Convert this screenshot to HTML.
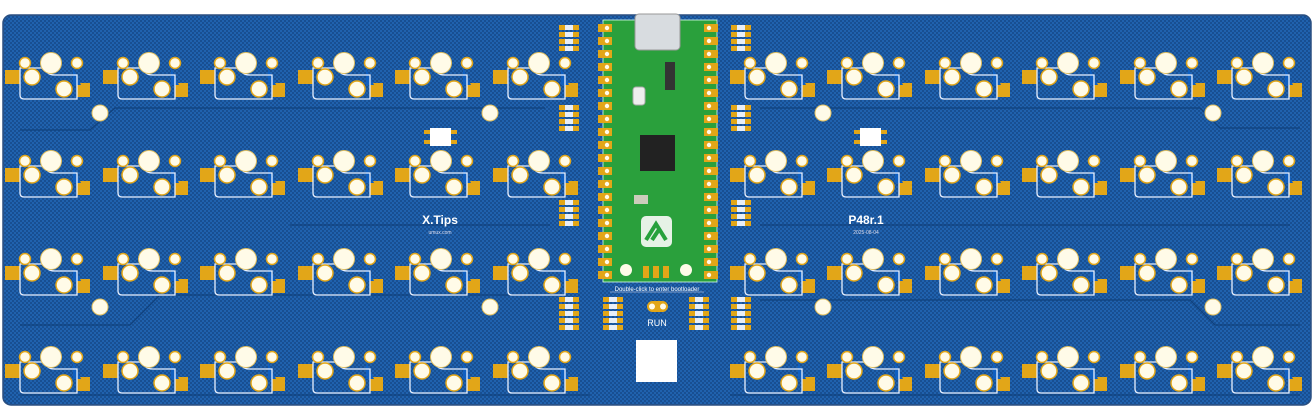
<!DOCTYPE html>
<html><head><meta charset="utf-8"><style>
html,body{margin:0;padding:0;background:#fff;}
svg{display:block}
text{font-family:"Liberation Sans",sans-serif;}
</style></head><body>
<svg width="1314" height="407" viewBox="0 0 1314 407" xmlns="http://www.w3.org/2000/svg">
<defs>
<pattern id="hatch" width="4" height="4" patternUnits="userSpaceOnUse">
<rect width="4" height="4" fill="#2062ae"/><rect width="2" height="2" fill="#184f92"/><rect x="2" y="2" width="2" height="2" fill="#184f92"/>
</pattern>
<g id="sw">
<rect x="-46" y="7" width="15" height="14" fill="#e2a618"/>
<rect x="26" y="20" width="13" height="14" fill="#e2a618"/>
<path d="M22,5 L30,22 L22,22 Z" fill="#0f5fc0"/>
<path d="M-31,5 H-10 Q-6,5 -4,9 Q-2,12 4,12 H26 V36 H-27 Q-31,36 -31,32 Z" fill="none" stroke="#e8f0ff" stroke-width="1.3"/>
<circle cx="0" cy="0" r="10.5" fill="#fffbe8" stroke="#e2c060" stroke-width="1"/>
<circle cx="-26" cy="0" r="5.5" fill="#fffbe8" stroke="#e2a618" stroke-width="1.5"/>
<circle cx="26" cy="0" r="5.5" fill="#fffbe8" stroke="#e2a618" stroke-width="1.5"/>
<circle cx="-19" cy="14" r="8" fill="#fffbe8" stroke="#e2a618" stroke-width="1.5"/>
<circle cx="13" cy="26" r="8" fill="#fffbe8" stroke="#e2a618" stroke-width="1.5"/>
</g>
<g id="res">
<rect x="0" y="0" width="6" height="5" fill="#e2a618"/><rect x="14" y="0" width="6" height="5" fill="#e2a618"/><rect x="6" y="0" width="8" height="5" fill="#e8eef8"/>
</g>
<g id="resblk">
<use href="#res" y="0"/><use href="#res" y="7"/><use href="#res" y="14"/><use href="#res" y="21"/>
</g>
<g id="pp"><rect x="0" y="0" width="14" height="8" fill="#e2a618"/><circle cx="9" cy="4" r="2.2" fill="#fffbe8"/></g>
<g id="ppr"><rect x="0" y="0" width="14" height="8" fill="#e2a618"/><circle cx="5" cy="4" r="2.2" fill="#fffbe8"/></g>
</defs>
<rect x="3" y="15" width="1308" height="390" rx="8" fill="url(#hatch)" stroke="#2a4f80" stroke-width="1.5"/>
<g stroke="#103f7a" stroke-width="1.2" fill="none" opacity="0.9">
<path d="M20,325 H130 L160,295 H540"/><path d="M20,130 H90 L115,108 H545"/>
<path d="M760,108 H1200 L1220,128 H1300"/><path d="M760,300 H1190 L1215,325 H1300"/>
<path d="M290,225 H550"/><path d="M760,225 H1290"/>
<path d="M20,395 H590"/><path d="M730,395 H1300"/>
</g>
<g>
<use href="#sw" x="51" y="63"/><use href="#sw" x="149" y="63"/><use href="#sw" x="246" y="63"/><use href="#sw" x="344" y="63"/><use href="#sw" x="441" y="63"/><use href="#sw" x="539" y="63"/>
<use href="#sw" x="51" y="161"/><use href="#sw" x="149" y="161"/><use href="#sw" x="246" y="161"/><use href="#sw" x="344" y="161"/><use href="#sw" x="441" y="161"/><use href="#sw" x="539" y="161"/>
<use href="#sw" x="51" y="259"/><use href="#sw" x="149" y="259"/><use href="#sw" x="246" y="259"/><use href="#sw" x="344" y="259"/><use href="#sw" x="441" y="259"/><use href="#sw" x="539" y="259"/>
<use href="#sw" x="51" y="357"/><use href="#sw" x="149" y="357"/><use href="#sw" x="246" y="357"/><use href="#sw" x="344" y="357"/><use href="#sw" x="441" y="357"/><use href="#sw" x="539" y="357"/>
<use href="#sw" x="776" y="63"/><use href="#sw" x="873" y="63"/><use href="#sw" x="971" y="63"/><use href="#sw" x="1068" y="63"/><use href="#sw" x="1166" y="63"/><use href="#sw" x="1263" y="63"/>
<use href="#sw" x="776" y="161"/><use href="#sw" x="873" y="161"/><use href="#sw" x="971" y="161"/><use href="#sw" x="1068" y="161"/><use href="#sw" x="1166" y="161"/><use href="#sw" x="1263" y="161"/>
<use href="#sw" x="776" y="259"/><use href="#sw" x="873" y="259"/><use href="#sw" x="971" y="259"/><use href="#sw" x="1068" y="259"/><use href="#sw" x="1166" y="259"/><use href="#sw" x="1263" y="259"/>
<use href="#sw" x="776" y="357"/><use href="#sw" x="873" y="357"/><use href="#sw" x="971" y="357"/><use href="#sw" x="1068" y="357"/><use href="#sw" x="1166" y="357"/><use href="#sw" x="1263" y="357"/>
</g>
<g fill="#fffbe8" stroke="#e2c060" stroke-width="1">
<circle cx="100" cy="113" r="8"/><circle cx="490" cy="113" r="8"/><circle cx="100" cy="307" r="8"/><circle cx="490" cy="307" r="8"/>
<circle cx="823" cy="113" r="8"/><circle cx="1213" cy="113" r="8"/><circle cx="823" cy="307" r="8"/><circle cx="1213" cy="307" r="8"/>
</g>
<g>
<rect x="424" y="130" width="6" height="4" fill="#e2a618"/><rect x="424" y="140" width="6" height="4" fill="#e2a618"/><rect x="451" y="130" width="6" height="4" fill="#e2a618"/><rect x="451" y="140" width="6" height="4" fill="#e2a618"/><rect x="430" y="128" width="21" height="18" fill="#fff"/>
<rect x="854" y="130" width="6" height="4" fill="#e2a618"/><rect x="854" y="140" width="6" height="4" fill="#e2a618"/><rect x="881" y="130" width="6" height="4" fill="#e2a618"/><rect x="881" y="140" width="6" height="4" fill="#e2a618"/><rect x="860" y="128" width="21" height="18" fill="#fff"/>
</g>
<text x="440" y="224" fill="#fff" font-size="12" font-weight="bold" text-anchor="middle">X.Tips</text>
<text x="440" y="234" fill="#dde" font-size="5" text-anchor="middle">umux.com</text>
<text x="866" y="224" fill="#fff" font-size="12" font-weight="bold" text-anchor="middle">P48r.1</text>
<text x="866" y="234" fill="#dde" font-size="5" text-anchor="middle">2025-08-04</text>
<use href="#resblk" x="559" y="25"/><use href="#resblk" x="559" y="105"/><use href="#resblk" x="559" y="200"/><use href="#resblk" x="559" y="297"/>
<use href="#resblk" x="731" y="25"/><use href="#resblk" x="731" y="105"/><use href="#resblk" x="731" y="200"/><use href="#resblk" x="731" y="297"/>
<use href="#resblk" x="603" y="297"/><use href="#resblk" x="689" y="297"/>
<use href="#res" x="559" y="325"/><use href="#res" x="731" y="325"/><use href="#res" x="603" y="325"/><use href="#res" x="689" y="325"/>
<rect x="603" y="20" width="114" height="262" fill="#2aa03c" stroke="#dfe" stroke-width="0.8"/>
<g>
<use href="#pp" x="598" y="24"/><use href="#pp" x="598" y="37"/><use href="#pp" x="598" y="50"/><use href="#pp" x="598" y="63"/><use href="#pp" x="598" y="76"/><use href="#pp" x="598" y="89"/><use href="#pp" x="598" y="102"/><use href="#pp" x="598" y="115"/><use href="#pp" x="598" y="128"/><use href="#pp" x="598" y="141"/><use href="#pp" x="598" y="154"/><use href="#pp" x="598" y="167"/><use href="#pp" x="598" y="180"/><use href="#pp" x="598" y="193"/><use href="#pp" x="598" y="206"/><use href="#pp" x="598" y="219"/><use href="#pp" x="598" y="232"/><use href="#pp" x="598" y="245"/><use href="#pp" x="598" y="258"/><use href="#pp" x="598" y="271"/>
<use href="#ppr" x="704" y="24"/><use href="#ppr" x="704" y="37"/><use href="#ppr" x="704" y="50"/><use href="#ppr" x="704" y="63"/><use href="#ppr" x="704" y="76"/><use href="#ppr" x="704" y="89"/><use href="#ppr" x="704" y="102"/><use href="#ppr" x="704" y="115"/><use href="#ppr" x="704" y="128"/><use href="#ppr" x="704" y="141"/><use href="#ppr" x="704" y="154"/><use href="#ppr" x="704" y="167"/><use href="#ppr" x="704" y="180"/><use href="#ppr" x="704" y="193"/><use href="#ppr" x="704" y="206"/><use href="#ppr" x="704" y="219"/><use href="#ppr" x="704" y="232"/><use href="#ppr" x="704" y="245"/><use href="#ppr" x="704" y="258"/><use href="#ppr" x="704" y="271"/>
</g>
<rect x="635" y="14" width="45" height="36" rx="4" fill="#d8dce0" stroke="#999"/>
<rect x="633" y="87" width="12" height="18" rx="3" fill="#eee" stroke="#aaa"/>
<rect x="665" y="62" width="10" height="28" fill="#333"/>
<rect x="640" y="135" width="35" height="36" fill="#222"/>
<rect x="634" y="195" width="14" height="9" fill="#ccb"/>
<rect x="641" y="216" width="31" height="31" rx="5" fill="#e6f2e6"/>
<path d="M646,240 L656,224 L666,240 M652,240 L660,228" stroke="#27a13c" stroke-width="4" fill="none"/>
<circle cx="626" cy="270" r="6" fill="#fffbe8"/><circle cx="686" cy="270" r="6" fill="#fffbe8"/>
<rect x="643" y="266" width="6" height="12" fill="#e2a618"/><rect x="653" y="266" width="6" height="12" fill="#e2a618"/><rect x="663" y="266" width="6" height="12" fill="#e2a618"/>
<text x="657" y="291" fill="#fff" font-size="6" text-anchor="middle">Double-click to enter bootloader</text>
<line x1="610" y1="292" x2="704" y2="292" stroke="#dde" stroke-width="0.6"/>
<rect x="647" y="301" width="21" height="11" rx="5.5" fill="#e2a618"/>
<circle cx="652" cy="306.5" r="3" fill="#fffbe8"/><circle cx="663" cy="306.5" r="3" fill="#fffbe8"/>
<text x="657" y="326" fill="#fff" font-size="9" text-anchor="middle">RUN</text>
<rect x="636" y="340" width="41" height="42" fill="#fff"/>
</svg>
</body></html>
